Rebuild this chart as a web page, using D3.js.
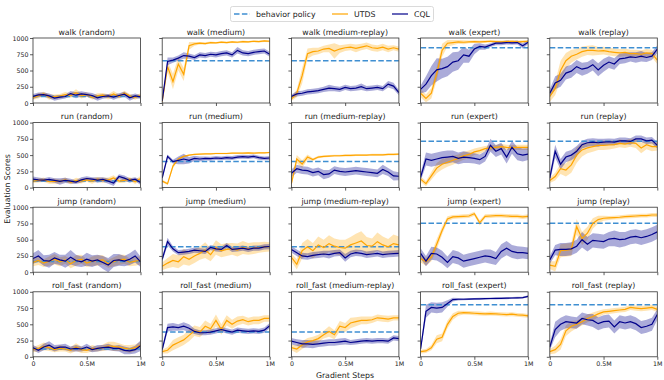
<!DOCTYPE html>
<meta charset="utf-8">
<title>UTDS vs CQL</title>
<style>

body {
  margin: 0;
  background: #fff;
}

text {
  font-family: "DejaVu Sans", sans-serif;
  fill: #222;
}

</style>
<body>
<script src="https://cdn.jsdelivr.net/npm/d3@7/dist/d3.min.js"></script>
<script>
// gradient steps (millions)
var steps = [0,0.05,0.1,0.15,0.2,0.25,0.3,0.35,0.4,0.45,0.5,0.55,0.6,0.65,0.7,0.75,0.8,0.85,0.9,0.95,1];

var tasks = ["walk", "run", "jump", "roll_fast"];
var datasets = ["random", "medium", "medium-replay", "expert", "replay"];
var yTicks = [0, 250, 500, 750, 1000];
var xTicks = [0, 0.5, 1];
var xTickLabels = ["0", "0.5M", "1M"];

// behavior policy score, one row per task
var behavior = [
  [100, 650, 650, 850, 850],
  [100, 400, 400, 715, 715],
  [165, 390, 390, 755, 755],
  [120, 380, 380, 800, 800]
];

// ---- walk
var utdsWalk = [
  [80,110,140,90,100,105,130,115,160,110,130,85,110,120,95,140,100,150,110,85,120],
  [20,560,330,600,440,880,910,920,915,930,925,935,930,940,935,945,940,950,945,955,950],
  [60,150,420,760,790,800,830,840,800,830,850,860,840,860,880,850,840,860,830,850,830],
  [150,70,150,450,810,920,930,940,935,940,945,940,945,950,945,940,945,950,940,945,950],
  [100,220,500,650,720,750,790,810,810,800,805,790,780,770,780,760,760,750,770,760,660]
];
var cqlWalk = [
  [100,125,130,110,75,90,100,145,120,140,130,115,80,100,110,90,115,135,80,110,95],
  [30,640,660,690,730,720,700,740,730,750,740,760,770,740,810,770,760,780,790,800,750],
  [100,140,150,170,180,190,210,230,220,210,240,220,230,250,220,230,240,220,290,260,160],
  [210,290,420,510,530,560,630,650,740,720,830,870,860,890,920,920,930,925,930,880,935],
  [150,310,350,460,490,560,520,540,590,510,580,630,600,680,690,710,700,720,700,720,830]
];
var utdsWalkSd = [
  [30,40,35,40,30,35,40,35,50,40,35,30,40,35,40,45,35,40,30,35,30],
  [20,80,120,100,100,60,30,20,20,15,15,15,15,15,15,15,15,15,15,15,15],
  [30,60,120,80,60,50,50,60,120,60,50,50,60,50,50,50,50,50,50,40,40],
  [60,60,80,100,100,50,40,30,30,20,20,20,20,20,20,20,20,20,20,20,20],
  [80,100,150,120,100,80,80,70,80,60,60,60,60,60,60,60,60,60,60,60,60]
];
var cqlWalkSd = [
  [40,35,30,35,40,35,30,40,45,40,35,40,45,35,30,40,35,40,45,35,30],
  [20,60,40,40,50,40,40,40,40,40,40,40,40,40,50,40,40,40,40,40,40],
  [30,40,40,40,40,40,40,50,40,40,40,40,40,50,40,40,40,40,50,50,40],
  [60,120,150,180,150,150,150,140,120,100,80,50,40,30,30,30,30,30,30,40,30],
  [60,100,100,100,100,100,100,90,90,100,100,90,90,80,80,70,80,80,70,60,60]
];

// ---- run
var utdsRun = [
  [100,110,120,90,100,95,120,80,110,100,120,100,130,110,120,150,100,110,130,90,140],
  [100,60,330,440,480,500,510,515,520,520,525,525,525,530,530,530,535,530,535,535,540],
  [60,440,360,470,430,470,480,485,490,490,495,495,500,500,500,505,505,505,510,510,515],
  [130,60,180,300,360,390,420,450,490,510,550,570,600,610,620,630,620,615,620,620,620],
  [110,170,290,270,350,500,580,610,630,650,650,655,660,680,670,690,680,610,660,630,630]
];
var cqlRun = [
  [130,120,115,125,110,95,110,100,85,120,140,130,115,125,100,70,170,145,110,130,80],
  [150,480,400,420,440,420,450,440,450,445,455,450,460,455,470,475,470,480,460,450,455],
  [220,290,270,260,230,250,200,210,270,250,240,250,260,250,240,230,220,280,240,180,175],
  [160,440,420,440,460,470,480,450,470,460,450,430,480,650,560,600,470,620,520,500,515],
  [150,560,360,470,500,560,660,690,700,690,700,705,700,720,720,710,750,750,720,730,650]
];
var utdsRunSd = [
  [30,30,35,30,40,30,35,30,40,35,30,40,35,40,35,40,30,35,30,35,40],
  [20,20,30,20,15,10,10,10,10,10,10,10,10,10,10,10,10,10,10,10,10],
  [30,60,60,40,20,20,15,15,15,15,15,15,15,15,15,15,15,15,15,15,15],
  [40,40,60,80,80,70,70,60,60,60,50,50,40,40,40,40,40,40,40,40,40],
  [40,60,80,100,120,120,100,80,80,70,70,70,60,60,60,60,70,80,70,70,60]
];
var cqlRunSd = [
  [40,35,30,40,35,50,40,35,30,40,35,30,40,35,40,45,35,40,35,30,40],
  [40,30,30,60,80,50,40,40,30,30,30,30,30,30,30,30,30,30,30,30,30],
  [60,60,60,60,60,60,70,60,60,60,60,60,60,60,60,60,60,70,60,70,60],
  [60,100,100,100,100,100,90,90,90,80,80,80,80,100,90,90,100,100,100,100,90],
  [60,100,80,80,80,80,60,60,60,60,50,50,50,50,50,50,50,50,50,50,50]
];

// ---- jump
var utdsJump = [
  [150,180,140,170,200,160,190,130,180,200,140,170,180,190,130,160,190,200,150,170,180],
  [90,140,180,160,240,200,250,290,340,270,380,330,350,360,340,380,360,370,380,390,390],
  [230,120,330,390,330,420,380,440,400,380,370,420,450,480,410,400,470,420,390,440,420],
  [210,160,230,430,640,820,850,855,860,865,900,760,860,865,870,870,865,860,860,850,860],
  [110,90,330,340,350,700,520,600,750,810,830,835,840,845,855,860,865,870,870,880,880]
];
var cqlJump = [
  [210,250,180,170,220,190,170,230,180,160,200,170,190,150,110,180,190,170,200,250,160],
  [200,470,360,300,310,320,340,330,320,380,360,350,410,350,360,370,350,370,370,390,395],
  [350,300,250,240,260,270,280,270,290,300,220,280,300,290,270,280,290,270,280,285,290],
  [290,170,290,280,230,150,240,220,170,190,210,230,250,240,210,320,370,320,300,300,290],
  [190,340,350,350,360,400,500,430,490,480,470,510,520,500,510,540,550,530,550,580,620]
];
var utdsJumpSd = [
  [60,70,60,70,80,70,60,70,80,70,60,70,80,70,60,70,80,70,60,70,60],
  [60,80,100,100,120,100,110,100,120,100,110,100,100,90,100,100,90,90,80,80,70],
  [60,80,120,120,120,130,120,130,120,120,130,120,140,150,130,120,140,130,120,140,130],
  [60,60,60,80,60,40,30,30,30,30,30,40,30,30,30,30,30,30,30,30,30],
  [60,80,100,100,100,120,100,100,80,60,40,30,30,30,30,30,30,30,30,30,30]
];
var cqlJumpSd = [
  [80,90,80,100,90,80,100,110,90,80,100,90,80,100,110,100,90,80,90,100,80],
  [40,60,40,40,40,40,40,40,40,40,40,40,40,40,40,40,40,40,40,40,40],
  [50,50,50,50,50,50,50,60,50,50,60,50,50,50,50,50,50,50,50,50,50],
  [80,80,100,100,100,90,100,100,100,100,100,100,100,110,100,110,110,100,100,90,90],
  [60,80,100,100,100,100,120,110,110,110,110,110,120,120,110,110,110,110,110,110,110]
];

// ---- roll_fast
var utdsRoll = [
  [110,130,160,140,110,130,120,100,150,110,100,130,120,140,170,160,150,130,120,140,180],
  [80,100,180,220,260,330,400,380,470,430,560,420,560,500,550,570,540,560,560,590,590],
  [140,120,180,230,250,280,340,390,340,470,450,520,540,560,560,570,600,590,580,600,600],
  [80,90,140,270,300,500,620,670,680,675,670,665,660,665,660,655,650,655,645,640,630],
  [80,110,190,400,470,500,540,590,620,660,690,700,710,720,730,760,750,740,750,760,730]
];
var cqlRoll = [
  [140,100,150,180,130,150,150,120,130,120,150,110,130,140,150,130,130,100,90,110,170],
  [110,450,460,450,470,440,390,370,370,380,400,420,400,380,410,400,390,400,390,410,480],
  [240,220,200,200,190,200,210,220,220,230,240,220,230,240,250,240,250,250,240,290,280],
  [120,700,760,750,760,820,880,885,885,888,890,892,895,897,898,900,902,905,908,910,930],
  [150,420,500,540,530,520,590,570,560,510,540,550,460,540,520,540,510,450,470,500,650]
];
var utdsRollSd = [
  [40,50,60,50,40,50,40,50,60,50,40,50,40,50,60,70,60,50,60,50,50],
  [30,50,80,80,80,90,80,80,90,80,90,80,80,70,70,60,60,60,60,50,50],
  [40,60,60,60,60,60,60,80,70,80,70,80,70,60,60,50,50,50,50,40,40],
  [30,30,40,60,60,60,50,40,30,30,30,30,30,30,30,30,30,30,30,30,30],
  [40,60,80,80,80,60,60,60,60,50,40,40,40,40,40,40,40,40,40,40,40]
];
var cqlRollSd = [
  [40,40,50,60,50,40,50,40,50,40,50,40,50,40,50,40,50,60,50,60,80],
  [40,60,60,50,60,60,40,40,40,40,40,40,40,40,40,40,40,40,40,40,40],
  [50,50,60,60,60,50,50,50,50,50,50,40,40,40,40,40,40,40,40,40,40],
  [40,100,80,80,80,50,30,20,15,15,15,15,15,15,15,15,15,15,15,15,15],
  [50,120,100,100,90,90,90,90,100,100,100,100,100,100,100,100,100,100,100,100,80]
];

var utds = [utdsWalk, utdsRun, utdsJump, utdsRoll],
    cql = [cqlWalk, cqlRun, cqlJump, cqlRoll],
    utdsSd = [utdsWalkSd, utdsRunSd, utdsJumpSd, utdsRollSd],
    cqlSd = [cqlWalkSd, cqlRunSd, cqlJumpSd, cqlRollSd];

var w = 664,
    h = 380,
    left = 33,
    top0 = 38,
    pw = 107.5,
    ph = 65,
    dx = 129.2,
    dy = 84.6;

var cUtds = "#ffa500",
    cCql = "#00008b",
    cBeh = "#3f8fd2";

var svg = d3.select("body").append("svg")
    .attr("width", w)
    .attr("height", h);

var x = d3.scaleLinear().domain([0, 1]).range([0, pw]);
var y = d3.scaleLinear().domain([0, 1000]).range([ph, 0]);

var line = d3.line()
    .x(function(d, i) { return x(steps[i]); })
    .y(function(d) { return y(d); });

function band(mean, sd) {
  return d3.area()
      .x(function(d, i) { return x(steps[i]); })
      .y0(function(d, i) { return y(mean[i] - sd[i]); })
      .y1(function(d, i) { return y(mean[i] + sd[i]); })(mean);
}

svg.append("defs").append("clipPath")
    .attr("id", "clip")
  .append("rect")
    .attr("width", pw)
    .attr("height", ph);

tasks.forEach(function(task, r) {
  datasets.forEach(function(ds, c) {
    var g = svg.append("g")
        .attr("transform", "translate(" + (left + c * dx) + "," + (top0 + r * dy) + ")");

    var plot = g.append("g").attr("clip-path", "url(#clip)");

    plot.append("path")
        .attr("d", band(utds[r][c], utdsSd[r][c]))
        .style("fill", cUtds)
        .style("fill-opacity", 0.3);
    plot.append("path")
        .attr("d", band(cql[r][c], cqlSd[r][c]))
        .style("fill", cCql)
        .style("fill-opacity", 0.33);

    plot.append("line")
        .attr("x1", 0)
        .attr("x2", pw)
        .attr("y1", y(behavior[r][c]))
        .attr("y2", y(behavior[r][c]))
        .style("stroke", cBeh)
        .style("stroke-width", 1.5)
        .style("stroke-dasharray", "5.5,2.4");

    plot.append("path")
        .attr("d", line(utds[r][c]))
        .style("fill", "none")
        .style("stroke", cUtds)
        .style("stroke-width", 1.2);
    plot.append("path")
        .attr("d", line(cql[r][c]))
        .style("fill", "none")
        .style("stroke", cCql)
        .style("stroke-width", 1.2);

    var ya = g.append("g")
        .call(d3.axisLeft(y).tickValues(yTicks).tickSize(3).tickPadding(1.5)
          .tickFormat(c == 0 ? d3.format("d") : function() { return ""; }));
    var xa = g.append("g")
        .attr("transform", "translate(0," + ph + ")")
        .call(d3.axisBottom(x).tickValues(xTicks).tickSize(3).tickPadding(2)
          .tickFormat(function(d, i) { return r == 3 ? xTickLabels[i] : ""; }));
    g.selectAll(".domain").remove();
    g.selectAll(".tick line").style("stroke", "#333").style("stroke-width", 0.8);
    g.selectAll(".tick text")
        .style("font-size", "6.3px")
        .style("font-family", "'DejaVu Sans', sans-serif")
        .style("fill", "#222");

    g.append("rect")
        .attr("width", pw)
        .attr("height", ph)
        .style("fill", "none")
        .style("stroke", "#333")
        .style("stroke-width", 0.8);

    g.append("text")
        .attr("x", pw / 2)
        .attr("y", -3.5)
        .attr("text-anchor", "middle")
        .style("font-size", "7.8px")
        .text(task + " (" + ds + ")");
  });
});

svg.append("text")
    .attr("x", 345)
    .attr("y", 378)
    .attr("text-anchor", "middle")
    .style("font-size", "7.8px")
    .text("Gradient Steps");

svg.append("text")
    .attr("transform", "translate(10,189)rotate(-90)")
    .attr("text-anchor", "middle")
    .style("font-size", "7.8px")
    .text("Evaluation Scores");

// legend
var legend = svg.append("g");
legend.append("rect")
    .attr("x", 230.5)
    .attr("y", 6.5)
    .attr("width", 203)
    .attr("height", 15)
    .attr("rx", 2)
    .style("fill", "#fff")
    .style("stroke", "#d0d0d0")
    .style("stroke-width", 0.8);

var items = [
  {name: "behavior policy", color: cBeh, dash: "5.5,2.4", lx: 234, tx: 256},
  {name: "UTDS", color: cUtds, dash: null, lx: 332, tx: 354},
  {name: "CQL", color: cCql, dash: null, lx: 392, tx: 414}
];
items.forEach(function(d) {
  legend.append("line")
      .attr("x1", d.lx)
      .attr("x2", d.lx + 16)
      .attr("y1", 14)
      .attr("y2", 14)
      .style("stroke", d.color)
      .style("stroke-width", d.dash ? 1.5 : 1.2)
      .style("stroke-dasharray", d.dash);
  legend.append("text")
      .attr("x", d.tx)
      .attr("y", 16.8)
      .style("font-size", "7.8px")
      .text(d.name);
});
</script>
